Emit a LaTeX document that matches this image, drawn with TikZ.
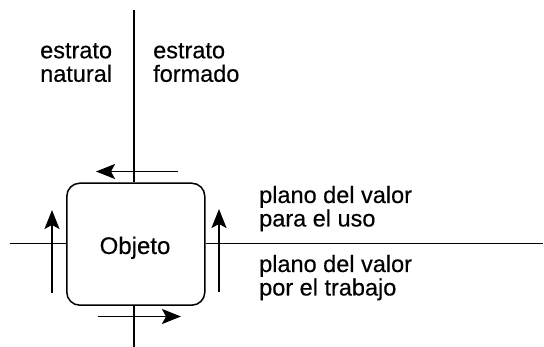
\documentclass[tikz,border=0pt]{standalone}
\usepackage{fontspec}
\setmainfont{Liberation Sans}
\newfontfamily\lblfont{Liberation Sans}[FakeBold=0.35]
\usetikzlibrary{arrows.meta}
\begin{document}
\begin{tikzpicture}[x=1pt,y=-1pt,
  lbl/.style={anchor=base west,inner sep=0pt,font=\lblfont\fontsize{23.5}{24}\selectfont},
  axis/.style={line width=1.4pt},
  flow/.style={line width=1.5pt,-{Stealth[length=19pt,width=15pt,inset=4pt]}},
  obj/.style={draw,line width=1.5pt,rounded corners=13pt,minimum width=138pt,minimum height=122pt,inner sep=0pt}]
\useasboundingbox (0,0) rectangle (544,347);
\node[obj] (o) at (135.8,244.2) {};
\node[anchor=base,inner sep=0pt,font=\lblfont\fontsize{24}{24}\selectfont] (ot) at (135,254) {Objeto};
% axes
\coordinate (vt) at (134,10);
\coordinate (vb) at (134,347);
\coordinate (hl) at (10,244);
\coordinate (hr) at (543,244);
\draw[axis] (vt) -- (o.north -| vt);
\draw[axis] (o.south -| vb) -- (vb);
\draw[line width=1pt] (hl) -- (o.west |- hl);
\draw[line width=1pt] (o.east |- hr) -- (hr);
% arrows
\coordinate (a1s) at (178,171.5);
\coordinate (a1e) at (96,171.5);
\coordinate (a2s) at (98,316.5);
\coordinate (a2e) at (181,316.5);
\coordinate (a3s) at (52,293);
\coordinate (a3e) at (52,210);
\coordinate (a4s) at (219,292);
\coordinate (a4e) at (219,209);
\draw[flow] (a1s) -- (a1e);
\draw[flow] (a2s) -- (a2e);
\draw[flow] (a3s) -- (a3e);
\draw[flow] (a4s) -- (a4e);
% labels
\node[lbl] (en1) at (40,58.3) {estrato};
\node[lbl] (en2) at (40,81.8) {natural};
\node[lbl] (ef1) at (153,58.3) {estrato};
\node[lbl] (ef2) at (153,81.8) {formado};
\node[lbl] (pu1) at (259,203) {plano del valor};
\node[lbl] (pu2) at (259,226.5) {para el uso};
\node[lbl] (pt1) at (259,272) {plano del valor};
\node[lbl] (pt2) at (259,295.5) {por el trabajo};
\end{tikzpicture}
\end{document}
